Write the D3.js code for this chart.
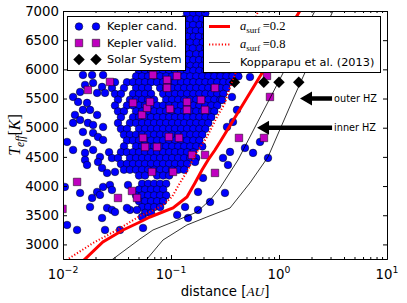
<!DOCTYPE html>
<html>
<head>
<meta charset="utf-8">
<script src="https://cdn.jsdelivr.net/npm/d3@7/dist/d3.min.js"></script>
<style>
  body { margin: 0; background: #fff; }
  svg { display: block; }
  text { font-family: "DejaVu Sans", sans-serif; fill: #000; }
  .math { font-family: "Liberation Serif", serif; }
</style>
</head>
<body>
<div id="chart-area"></div>
<script>

// ---------- data ----------

// Kepler candidates, dense part: one row per Teff [K], distances in AU
var candidateRows = [
	[6960, [0.141, 0.161, 0.183, 0.208]],
	[6860, [0.133, 0.151, 0.172, 0.195]],
	[6760, [0.141, 0.160, 0.184, 0.207]],
	[6660, [0.132, 0.152, 0.170, 0.193]],
	[6560, [0.143, 0.162, 0.181, 0.207]],
	[6460, [0.134, 0.150, 0.173, 0.197]],
	[6360, [0.140, 0.159, 0.185, 0.208]],
	[6260, [0.131, 0.148, 0.171, 0.195]],
	[6160, [0.142, 0.161, 0.182, 0.206]],
	[6060, [0.133, 0.151, 0.172, 0.194]],
	[5975, [0.0506, 0.0575, 0.0654, 0.0744, 0.0846, 0.0962, 0.109, 0.124, 0.141, 0.161, 0.183, 0.208, 0.236, 0.268, 0.305, 0.347]],
	[5880, [0.0475, 0.054, 0.0614, 0.0698, 0.0793, 0.0902, 0.1025, 0.1166, 0.1325, 0.1507, 0.1713, 0.1948, 0.2215, 0.2518, 0.2863, 0.3255, 0.370, 0.421]],
	[5780, [0.0303, 0.0391, 0.0445, 0.0506, 0.0575, 0.0654, 0.0744, 0.0846, 0.0962, 0.109, 0.124, 0.141, 0.161, 0.183, 0.208, 0.236, 0.268, 0.305, 0.347]],
	[5680, [0.0284, 0.0367, 0.0475, 0.054, 0.0614, 0.0793, 0.0902, 0.1025, 0.1166, 0.1325, 0.1507, 0.1713, 0.1948, 0.2215, 0.2518, 0.2863, 0.3255]],
	[5580, [0.0303, 0.0344, 0.0445, 0.0506, 0.0575, 0.0654, 0.0846, 0.0962, 0.109, 0.124, 0.141, 0.161, 0.183, 0.208, 0.236, 0.268, 0.305]],
	[5480, [0.0323, 0.0417, 0.0475, 0.054, 0.0614, 0.0698, 0.0902, 0.1025, 0.1166, 0.1325, 0.1507, 0.1713, 0.1948, 0.2215, 0.2518, 0.2863]],
	[5380, [0.0303, 0.0391, 0.0445, 0.0506, 0.0575, 0.0654, 0.0744, 0.0846, 0.0962, 0.109, 0.124, 0.141, 0.161, 0.183, 0.208, 0.236, 0.268]],
	[5280, [0.0323, 0.0367, 0.0475, 0.054, 0.0614, 0.0698, 0.0793, 0.0902, 0.1025, 0.1166, 0.1325, 0.1507, 0.1713, 0.1948, 0.2215, 0.2518]],
	[5180, [0.0344, 0.0445, 0.0506, 0.0575, 0.0654, 0.0744, 0.0846, 0.0962, 0.109, 0.124, 0.141, 0.161, 0.183, 0.208, 0.236]],
	[5080, [0.0323, 0.0417, 0.0475, 0.054, 0.0614, 0.0698, 0.0793, 0.0902, 0.1025, 0.1166, 0.1325, 0.1507, 0.1713, 0.1948, 0.2215]],
	[4980, [0.0344, 0.0391, 0.0506, 0.0575, 0.0654, 0.0744, 0.0846, 0.0962, 0.109, 0.124, 0.141, 0.161, 0.183, 0.208]],
	[4880, [0.0367, 0.0417, 0.0475, 0.054, 0.0614, 0.0698, 0.0793, 0.0902, 0.1025, 0.1166, 0.1325, 0.1507, 0.1713, 0.1948]],
	[4780, [0.0391, 0.0445, 0.0506, 0.0575, 0.0654, 0.0744, 0.0846, 0.0962, 0.109, 0.124, 0.141, 0.161, 0.183]],
	[4680, [0.0367, 0.0475, 0.054, 0.0614, 0.0698, 0.0793, 0.0902, 0.1025, 0.1166, 0.1325, 0.1507, 0.1713, 0.1948]],
	[4580, [0.0267, 0.0344, 0.0391, 0.0445, 0.0506, 0.0575, 0.0654, 0.0744, 0.0846, 0.0962, 0.109, 0.124, 0.141, 0.161]],
	[4480, [0.0284, 0.0323, 0.0417, 0.0475, 0.054, 0.0614, 0.0698, 0.0793, 0.0902, 0.1025, 0.1166, 0.1325, 0.1507, 0.1713]],
	[4380, [0.0344, 0.0391, 0.0445, 0.0506, 0.0575, 0.0654, 0.0744, 0.0846, 0.0962, 0.109, 0.124, 0.141]],
	[4280, [0.0367, 0.0417, 0.0475, 0.054, 0.0614, 0.0698, 0.0793, 0.0902, 0.1025, 0.1166, 0.1325]],
	[4180, [0.0506, 0.0575, 0.0744, 0.0846, 0.0962]],
	[4040, [0.054, 0.0614, 0.0698, 0.0793, 0.0902]],
	[3940, [0.0506, 0.0575, 0.0654, 0.0744, 0.0846]],
	[3840, [0.0475, 0.054, 0.0614, 0.0698, 0.0793, 0.0902]],
	[3740, [0.0506, 0.0575, 0.0654, 0.0744, 0.0846]],
	[3640, [0.054, 0.0614, 0.0698, 0.0793]],
	[3540, [0.0575, 0.0654]]
];

// Kepler candidates, scattered ones: [distance AU, Teff K]
var candidateSingles = [
	[0.0153, 5904], [0.0186, 5904], [0.0235, 5904], [0.0190, 5767], [0.0160, 5733], [0.0230, 5699],
	[0.0144, 5613], [0.0207, 5596], [0.0245, 5596], [0.0124, 5527], [0.0138, 5442], [0.0167, 5425],
	[0.0153, 5305], [0.0178, 5305], [0.0207, 5219], [0.0129, 5219], [0.0144, 5133], [0.0124, 5082],
	[0.0170, 5082], [0.0190, 5047], [0.0235, 5013], [0.0153, 4927], [0.0190, 4910], [0.0211, 4842],
	[0.0109, 4756], [0.0167, 4739], [0.0235, 4790], [0.0124, 4619], [0.0160, 4568], [0.0190, 4619],
	[0.0220, 4499], [0.0160, 4448], [0.0167, 4362], [0.0211, 4413], [0.0230, 4310], [0.0256, 4225],
	[0.0303, 4242], [0.0144, 3882], [0.0186, 3796], [0.0207, 3899], [0.0235, 3985], [0.0272, 4019],
	[0.0284, 3933], [0.0220, 3848], [0.0400, 4019], [0.0256, 3625], [0.0284, 3591], [0.0303, 3556],
	[0.0230, 3453], [0.0417, 3591], [0.0484, 3591], [0.0539, 3471], [0.0109, 3333], [0.0135, 3248],
	[0.0245, 3248], [0.0337, 3248], [0.0104, 3985], [0.0178, 3642], [0.0391, 3625], [0.0551, 3282],
	[0.539, 5870], [0.367, 5527], [0.297, 5476], [0.408, 5305], [0.375, 5099], [0.330, 5013],
	[0.352, 4585], [0.303, 4482], [0.484, 4653], [0.667, 4756], [0.575, 4568], [0.791, 4482],
	[0.337, 4362], [0.316, 3882], [0.230, 3728], [0.178, 3899], [0.178, 3591], [0.144, 3453],
	[0.135, 3642], [0.198, 4139], [0.167, 4413], [0.114, 3505]
];

// Kepler validated planets: [distance AU, Teff K]
var validated = [
	[0.0170, 5647], [0.0272, 5785], [0.0445, 5425], [0.0539, 5219], [0.0600, 5339], [0.0551, 4825],
	[0.0575, 4670], [0.0681, 5904], [0.0919, 5819], [0.0919, 5682], [0.1136, 5887], [0.2555, 5682],
	[0.0639, 5442], [0.0979, 5322], [0.1406, 5442], [0.1896, 5476], [0.1406, 5305], [0.2065, 5305],
	[0.0958, 4842], [0.1186, 4825], [0.0742, 4670], [0.1565, 4533], [0.2065, 4533], [0.0667, 4242],
	[0.1044, 4242], [0.2555, 4225], [0.0135, 4071], [0.0099, 3608], [0.0323, 3796], [0.0435, 3916],
	[0.0484, 3796], [0.426, 4825], [0.726, 4825], [0.774, 5887], [0.825, 5527]
];

// Mercury, Venus, Earth, Mars
var solarDist = [0.387, 0.723, 1.0, 1.524];
var solarTeff = 5778;

// model curves: Teff [K] and distance [AU]
var surf02Teff = [2700, 3041, 3247, 3384, 3470, 3624, 3813, 4053, 4275, 4447, 4618, 4755, 5938, 7000];
var surf02Dist = [0.0150, 0.0234, 0.0360, 0.0516, 0.0640, 0.1044, 0.1406, 0.1667, 0.1936, 0.2203, 0.2554, 0.2843, 0.697, 1.56];

var surf08Teff = [2700, 3024, 3247, 3487, 3556, 3676, 3813, 4053, 4275, 4532, 4841, 5184, 5423, 5698, 6040, 7000];
var surf08Dist = [0.0101, 0.0190, 0.0316, 0.0516, 0.0640, 0.0843, 0.102, 0.121, 0.1435, 0.1667, 0.2154, 0.2667, 0.316, 0.352, 0.417, 0.64];

var innerHZTeff = [2700, 3093, 3247, 3384, 3555, 3761, 3967, 4447, 5012, 5903, 7000];
var innerHZDist = [0.0267, 0.0516, 0.0681, 0.1044, 0.174, 0.230, 0.2843, 0.417, 0.600, 1.067, 2.15];

var outerHZTeff = [2700, 3076, 3333, 3470, 3624, 4053, 4498, 5526, 5869, 7000];
var outerHZDist = [0.0569, 0.0843, 0.1406, 0.215, 0.352, 0.538, 0.791, 1.377, 1.667, 3.16];

// arrows: label, Teff, tip distance, tail distance
var arrowLabels = ["outer HZ", "inner HZ"];
var arrowTeff = [5500, 5000];
var arrowTip = [1.565, 0.626];
var arrowTail = [3.1, 3.1];

// ticks
var yTicks = [3000, 3500, 4000, 4500, 5000, 5500, 6000, 6500, 7000];
var xTicks = [0.01, 0.1, 1, 10];
var xTickExp = ["\u22122", "\u22121", "0", "1"];


// ---------- canvas ----------
var margin = { top: 11, right: 20, bottom: 44, left: 63 };
var width  = 407 - margin.left - margin.right;
var height = 303 - margin.top  - margin.bottom;

var svg = d3.select("#chart-area")
	.append("svg")
		.attr("width",  width  + margin.left + margin.right)
		.attr("height", height + margin.top  + margin.bottom);

var g = svg.append("g")
	.attr("transform", "translate(" + margin.left + "," + margin.top + ")");

var x = d3.scaleLog().domain([0.01, 10]).range([0, width]);
var y = d3.scaleLinear().domain([2750, 7000]).range([height, 0]);

svg.append("defs").append("clipPath").attr("id", "plot-clip")
	.append("rect").attr("width", width).attr("height", height);

var plot = g.append("g").attr("clip-path", "url(#plot-clip)");


// ---------- markers ----------
var candidates = [];
candidateRows.forEach(function(r) {
	r[1].forEach(function(d) { candidates.push([d, r[0]]); });
});
candidates = candidates.concat(candidateSingles);

plot.selectAll(".cand")
	.data(candidates)
	.enter().append("circle")
		.attr("class", "cand")
		.attr("cx", function(d) { return x(d[0]); })
		.attr("cy", function(d) { return y(d[1]); })
		.attr("r", 3.8)
		.attr("fill", "#0000ff")
		.attr("stroke", "#000")
		.attr("stroke-width", 0.5);

var square = d3.symbol().type(d3.symbolSquare).size(56);
plot.selectAll(".valid")
	.data(validated)
	.enter().append("path")
		.attr("class", "valid")
		.attr("d", square)
		.attr("transform", function(d) { return "translate(" + x(d[0]) + "," + y(d[1]) + ")"; })
		.attr("fill", "#bf00bf")
		.attr("stroke", "#000")
		.attr("stroke-width", 0.5);

var diamond = d3.symbol().type(d3.symbolSquare).size(66);
plot.selectAll(".solar")
	.data(solarDist)
	.enter().append("path")
		.attr("class", "solar")
		.attr("d", diamond)
		.attr("transform", function(d) { return "translate(" + x(d) + "," + y(solarTeff) + ") rotate(45)"; })
		.attr("fill", "#000");


// ---------- curves ----------
function curve(teff, dist) {
	return teff.map(function(t, i) { return [dist[i], t]; });
}
var line = d3.line()
	.x(function(d) { return x(d[0]); })
	.y(function(d) { return y(d[1]); });

plot.append("path").datum(curve(surf08Teff, surf08Dist))
	.attr("d", line).attr("fill", "none")
	.attr("stroke", "#ff0000").attr("stroke-width", 2).attr("stroke-dasharray", "1.2,2");

plot.append("path").datum(curve(surf02Teff, surf02Dist))
	.attr("d", line).attr("fill", "none")
	.attr("stroke", "#ff0000").attr("stroke-width", 3);

[curve(innerHZTeff, innerHZDist), curve(outerHZTeff, outerHZDist)].forEach(function(c) {
	plot.append("path").datum(c)
		.attr("d", line).attr("fill", "none")
		.attr("stroke", "#000").attr("stroke-width", 0.8);
});


// ---------- arrows ----------
arrowLabels.forEach(function(label, i) {
	var tip = x(arrowTip[i]), tail = x(arrowTail[i]), ay = y(arrowTeff[i]);
	var hl = 12, hw = 7, sw = 2.3;
	g.append("path")
		.attr("d", "M" + tail + "," + (ay - sw) + "L" + (tip + hl) + "," + (ay - sw) +
			"L" + (tip + hl) + "," + (ay - hw) + "L" + tip + "," + ay +
			"L" + (tip + hl) + "," + (ay + hw) + "L" + (tip + hl) + "," + (ay + sw) +
			"L" + tail + "," + (ay + sw) + "Z")
		.attr("fill", "#000");
	g.append("text")
		.attr("x", tail + 2)
		.attr("y", ay)
		.attr("dy", "0.35em")
		.style("font-size", "9.7px")
		.text(label);
});


// ---------- axes ----------
var majorLen = 4, minorLen = 2;

function axisGroup(axis, tx, ty) {
	return g.append("g")
		.attr("transform", "translate(" + tx + "," + ty + ")")
		.call(axis);
}

axisGroup(d3.axisBottom(x).tickValues(x.ticks()).tickSize(-minorLen).tickSizeOuter(0).tickFormat(""), 0, height);
axisGroup(d3.axisTop(x).tickValues(x.ticks()).tickSize(-minorLen).tickSizeOuter(0).tickFormat(""), 0, 0);
axisGroup(d3.axisBottom(x).tickValues(xTicks).tickSize(-majorLen).tickSizeOuter(0).tickFormat(""), 0, height);
axisGroup(d3.axisTop(x).tickValues(xTicks).tickSize(-majorLen).tickSizeOuter(0).tickFormat(""), 0, 0);
axisGroup(d3.axisRight(y).tickValues(yTicks).tickSize(-majorLen).tickSizeOuter(0).tickFormat(""), width, 0);

var yAxis = axisGroup(d3.axisLeft(y).tickValues(yTicks).tickSize(-majorLen).tickSizeOuter(0)
	.tickPadding(4).tickFormat(d3.format("d")), 0, 0);
yAxis.selectAll("text")
	.attr("font-family", "DejaVu Sans")
	.attr("font-size", "13.3px");

g.selectAll(".domain").attr("stroke", "#000");
g.selectAll(".tick line").attr("stroke", "#000");

var xLab = g.append("g").selectAll("text")
	.data(xTicks)
	.enter().append("text")
		.attr("x", function(d) { return x(d); })
		.attr("y", height + 20)
		.attr("text-anchor", "middle")
		.style("font-size", "13.3px");
xLab.append("tspan").text("10");
xLab.append("tspan")
	.attr("dy", -6)
	.style("font-size", "9.3px")
	.text(function(d, i) { return xTickExp[i]; });

// x label
var xTitle = g.append("text")
	.attr("x", width / 2)
	.attr("y", height + 37)
	.attr("text-anchor", "middle")
	.style("font-size", "13.3px");
xTitle.append("tspan").text("distance [");
xTitle.append("tspan").attr("class", "math").style("font-style", "italic").text("AU");
xTitle.append("tspan").text("]");

// y label
var yTitle = svg.append("text")
	.attr("transform", "translate(20," + (margin.top + height / 2) + ") rotate(-90)")
	.attr("text-anchor", "middle")
	.attr("class", "math")
	.style("font-size", "16px");
yTitle.append("tspan").style("font-style", "italic").text("T");
yTitle.append("tspan").style("font-style", "italic").style("font-size", "11.5px").attr("dy", 3.5).text("eff");
yTitle.append("tspan").attr("dy", -3.5).text("[");
yTitle.append("tspan").style("font-style", "italic").text("K");
yTitle.append("tspan").text("]");


// ---------- legends ----------
var leg1 = svg.append("g");
leg1.append("rect")
	.attr("x", 67.5).attr("y", 16.5).attr("width", 118).attr("height", 54)
	.attr("fill", "#fff").attr("stroke", "#000").attr("stroke-width", 1);

var leg1Rows = [
	{ label: "Kepler cand.", kind: "circle" },
	{ label: "Kepler valid.", kind: "square" },
	{ label: "Solar System", kind: "diamond" }
];
leg1Rows.forEach(function(r, i) {
	var ly = 26.5 + i * 16.5;
	[79, 96].forEach(function(lx) {
		if (r.kind === "circle") {
			leg1.append("circle").attr("cx", lx).attr("cy", ly).attr("r", 3.8)
				.attr("fill", "#0000ff").attr("stroke", "#000").attr("stroke-width", 0.5);
		} else if (r.kind === "square") {
			leg1.append("path").attr("d", square).attr("transform", "translate(" + lx + "," + ly + ")")
				.attr("fill", "#bf00bf").attr("stroke", "#000").attr("stroke-width", 0.5);
		} else {
			leg1.append("path").attr("d", diamond).attr("transform", "translate(" + lx + "," + ly + ") rotate(45)")
				.attr("fill", "#000");
		}
	});
	leg1.append("text").attr("x", 107).attr("y", ly).attr("dy", "0.35em")
		.style("font-size", "11.3px").text(r.label);
});

var leg2 = svg.append("g");
leg2.append("rect")
	.attr("x", 203.5).attr("y", 16.5).attr("width", 177).attr("height", 56)
	.attr("fill", "#fff").attr("stroke", "#000").attr("stroke-width", 1);

var leg2Y = [26.5, 44.5, 62.5];
leg2.append("line").attr("x1", 209).attr("x2", 230).attr("y1", leg2Y[0]).attr("y2", leg2Y[0])
	.attr("stroke", "#ff0000").attr("stroke-width", 3);
leg2.append("line").attr("x1", 209).attr("x2", 230).attr("y1", leg2Y[1]).attr("y2", leg2Y[1])
	.attr("stroke", "#ff0000").attr("stroke-width", 2).attr("stroke-dasharray", "1.2,2");
leg2.append("line").attr("x1", 209).attr("x2", 230).attr("y1", leg2Y[2]).attr("y2", leg2Y[2])
	.attr("stroke", "#000").attr("stroke-width", 0.8);

["0.2", "0.8"].forEach(function(v, i) {
	var t = leg2.append("text").attr("x", 240).attr("y", leg2Y[i]).attr("dy", "0.3em")
		.attr("class", "math").style("font-size", "12.5px");
	t.append("tspan").style("font-style", "italic").text("a");
	t.append("tspan").attr("dy", 3).style("font-size", "9px").text("surf");
	t.append("tspan").attr("dy", -3).text("\u2009=" + v);
});
leg2.append("text").attr("x", 240).attr("y", leg2Y[2]).attr("dy", "0.35em")
	.style("font-size", "11.3px").text("Kopparapu et al. (2013)");

</script>
</body>
</html>
